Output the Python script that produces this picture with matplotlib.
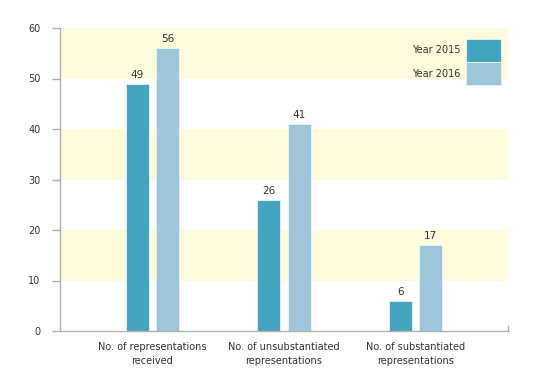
import matplotlib.pyplot as plt
import numpy as np

categories = ["No. of representations\nreceived",
              "No. of unsubstantiated\nrepresentations",
              "No. of substantiated\nrepresentations"]
year_2015 = [49, 26, 6]
year_2016 = [56, 41, 17]
series_labels = ["Year 2015", "Year 2016"]
y_ticks = [0, 10, 20, 30, 40, 50, 60]

plt.rcParams['font.family'] = ['Liberation Sans Narrow', 'DejaVu Sans']

fig = plt.figure(figsize=(5.6, 3.8), dpi=100)
ax = fig.add_axes([60 / 560, 1 - 331 / 380, 448 / 560, 303 / 380])

# alternating shaded bands
for lo in (10, 30, 50):
    ax.axhspan(lo, lo + 10, color='#fffbdc', zorder=0, lw=0)

x = np.arange(len(categories))
w = 0.175
off = 0.115
b1 = ax.bar(x - off, year_2015, w, color='#44a3bd', edgecolor='#e8f4f8', lw=0.6,
            label=series_labels[0], zorder=2)
b2 = ax.bar(x + off, year_2016, w, color='#9dc6d8', edgecolor='#eef6fa', lw=0.6,
            label=series_labels[1], zorder=2)

for bars, vals in ((b1, year_2015), (b2, year_2016)):
    for r, v in zip(bars, vals):
        ax.text(r.get_x() + r.get_width() / 2, v + 0.8, str(v), ha='center', va='bottom',
                fontsize=7.5, color='#333333')

ax.set_xlim(-0.7, 2.7)
ax.set_ylim(0, 60)
ax.set_yticks(y_ticks)
ax.set_xticks(x)
ax.set_xticklabels(categories, fontsize=7, color='#333333', linespacing=1.5)
ax.tick_params(axis='x', length=0, pad=8)
ax.tick_params(axis='y', length=6, width=1, color='#b0b0b0', labelsize=7, labelcolor='#333333', pad=8)

ax.spines['top'].set_visible(False)
ax.spines['right'].set_bounds(0, 1)
for s in ('left', 'bottom', 'right'):
    ax.spines[s].set_color('#b0b0b0')
    ax.spines[s].set_linewidth(1)

leg = ax.legend(loc='upper right', bbox_to_anchor=(0.985, 0.964), frameon=False,
                markerfirst=False, fontsize=7, handlelength=3.6, handleheight=3.3,
                labelspacing=0.0, handletextpad=0.6, borderaxespad=0, borderpad=0)
for t in leg.get_texts():
    t.set_color('#333333')

fig.savefig('out.png', dpi=100)
